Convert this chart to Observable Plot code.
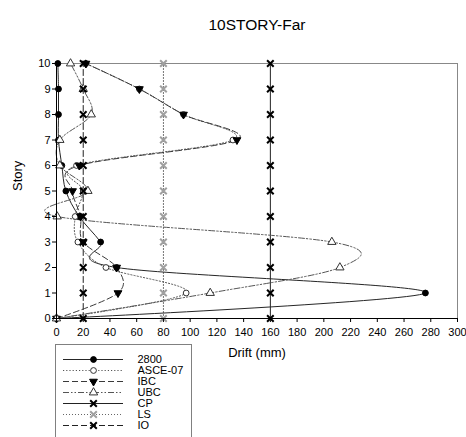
<!DOCTYPE html>
<html><head><meta charset="utf-8">
<script src="https://cdn.jsdelivr.net/npm/d3@7"></script>
<script src="https://cdn.jsdelivr.net/npm/@observablehq/plot@0.6"></script>
<style>
body{margin:0;background:#fff;font-family:Arial,"Liberation Sans",sans-serif}
#wrap{position:relative;width:466px;height:437px;overflow:hidden;background:#fff}
#legend{position:absolute;left:55px;top:344px;width:135px;height:100px;border:1px solid #808080;background:#fff}
svg{overflow:visible}
</style></head><body><div id="wrap"><div id="chart"></div><div id="legend"></div></div>
<script>
// ---- data ----
const stories = [0, 1, 2, 3, 4, 5, 6, 7, 8, 9, 10];
const drift2800   = [0, 276, 45, 33, 17, 7, 4, 1.5, 1.5, 1.5, 1];
const driftASCE07 = [0, 97, 37, 16, 14, 20, 15, 132, 95, 62, 22];
const driftIBC    = [0, 46, 45, 20, 18, 12, 17, 135, 95, 62, 22];
const driftUBC    = [0, 115, 212, 206, 0.5, 23.5, 2.5, 2.5, 26, 20, 10.5];
const driftCP     = [160, 160, 160, 160, 160, 160, 160, 160, 160, 160, 160];
const driftLS     = [80, 80, 80, 80, 80, 80, 80, 80, 80, 80, 80];
const driftIO     = [20, 20, 20, 20, 20, 20, 20, 20, 20, 20, 20];
const seriesNames = ["2800", "ASCE-07", "IBC", "UBC", "CP", "LS", "IO"];
const xTicks = [0, 20, 40, 60, 80, 100, 120, 140, 160, 180, 200, 220, 240, 260, 280, 300];
const yTicks = [0, 1, 2, 3, 4, 5, 6, 7, 8, 9, 10];
const title = "10STORY-Far";
const xLabel = "Drift (mm)";
const yLabel = "Story";

// ---- styles ----
const triangleDown = {
  draw(context, size) {
    const y = -Math.sqrt(size / (Math.sqrt(3) * 3));
    context.moveTo(0, -y * 2);
    context.lineTo(-Math.sqrt(3) * y, y);
    context.lineTo(Math.sqrt(3) * y, y);
    context.closePath();
  }
};
const styles = {
  "2800":    {stroke: "#262626", dash: null, curve: "cardinal", symbol: "circle", fill: "#000", mstroke: "#000", r: 2.9, msw: 1},
  "ASCE-07": {stroke: "#555", dash: "1.2,2", curve: "cardinal", symbol: "circle", fill: "#fff", mstroke: "#333", r: 2.9, msw: 1},
  "IBC":     {stroke: "#3a3a3a", dash: "6,3", curve: "cardinal", symbol: triangleDown, fill: "#000", mstroke: "#000", r: 2.9, msw: 1},
  "UBC":     {stroke: "#555", dash: "6,2,1.5,2,1.5,2", curve: "cardinal", symbol: "triangle", fill: "#fff", mstroke: "#333", r: 3.1, msw: 1},
  "CP":      {stroke: "#222", dash: null, curve: "linear", symbol: "times", fill: "none", mstroke: "#000", r: 3.1, msw: 2},
  "LS":      {stroke: "#666", dash: "1,2", curve: "linear", symbol: "times", fill: "none", mstroke: "#a0a0a0", r: 3.1, msw: 2},
  "IO":      {stroke: "#222", dash: "6,3", curve: "linear", symbol: "times", fill: "none", mstroke: "#000", r: 3.1, msw: 2}
};

// ---- tables ----
const valuesByName = {"2800": drift2800, "ASCE-07": driftASCE07, "IBC": driftIBC, "UBC": driftUBC, "CP": driftCP, "LS": driftLS, "IO": driftIO};
const rows = name => stories.map((s, i) => ({story: s, drift: valuesByName[name][i]}));

const drawOrder = ["CP", "LS", "IO", "2800", "ASCE-07", "IBC", "UBC"];
const lineMarks = drawOrder.map(name => {
  const st = styles[name];
  return Plot.line(rows(name), {x: "drift", y: "story", curve: st.curve, tension: 0, stroke: st.stroke, strokeWidth: 1, strokeDasharray: st.dash});
});
const dotOrder = ["2800", "ASCE-07", "IBC", "UBC", "LS", "CP", "IO"];
const dotMarks = dotOrder.map(name => {
  const st = styles[name];
  return Plot.dot(rows(name), {x: "drift", y: "story", symbol: () => st.symbol, r: st.r, fill: st.fill, stroke: st.mstroke, strokeWidth: st.msw});
});

const chart = Plot.plot({
  width: 466, height: 437,
  marginLeft: 56, marginRight: 9, marginTop: 63, marginBottom: 119,
  style: {fontFamily: "Arial, 'Liberation Sans', sans-serif", fontSize: "11px", color: "#000", background: "#fff"},
  x: {domain: [0, 300]},
  y: {domain: [0, 10]},
  symbol: {type: "identity"},
  marks: [
    Plot.frame({stroke: "#888"}),
    ...lineMarks,
    ...dotMarks,
    Plot.ruleX([0], {stroke: "#000"}),
    Plot.ruleY([0], {stroke: "#000"}),
    Plot.axisX(xTicks, {tickSize: 4, tickPadding: 6, label: null, stroke: "#000", fill: "#000"}),
    Plot.axisY(yTicks, {tickSize: 4, tickPadding: 2, label: null, stroke: "#000", fill: "#000"}),
    Plot.text([xLabel], {frameAnchor: "bottom", dy: 38, fontSize: 13, fill: "#000"}),
    Plot.text([yLabel], {frameAnchor: "left", dx: -39, rotate: -90, fontSize: 13, fill: "#000"}),
    Plot.text([title], {frameAnchor: "top", dy: -45, fontSize: 15.5, fill: "#000"})
  ]
});
document.getElementById("chart").appendChild(chart);

// ---- legend ----
const legendMarks = [];
for (const name of seriesNames) {
  const st = styles[name];
  legendMarks.push(Plot.ruleY([name], {y: d => d, x1: 7, x2: 67, stroke: st.stroke, strokeWidth: 1, strokeDasharray: st.dash}));
  legendMarks.push(Plot.dot([name], {y: d => d, x: 37, symbol: () => st.symbol, r: st.r, fill: st.fill, stroke: st.mstroke, strokeWidth: st.msw}));
  legendMarks.push(Plot.text([name], {y: d => d, x: 81, text: d => d, textAnchor: "start", fontSize: 11, lineHeight: 1, fill: "#000"}));
}
const legend = Plot.plot({
  width: 135, height: 100, margin: 0,
  style: {fontFamily: "Arial, 'Liberation Sans', sans-serif", background: "transparent"},
  x: {domain: [0, 135], range: [0, 135], axis: null},
  y: {type: "point", domain: seriesNames, range: [11, 82], padding: 0, axis: null},
  symbol: {type: "identity"},
  marks: legendMarks
});
document.getElementById("legend").appendChild(legend);
</script></body></html>
